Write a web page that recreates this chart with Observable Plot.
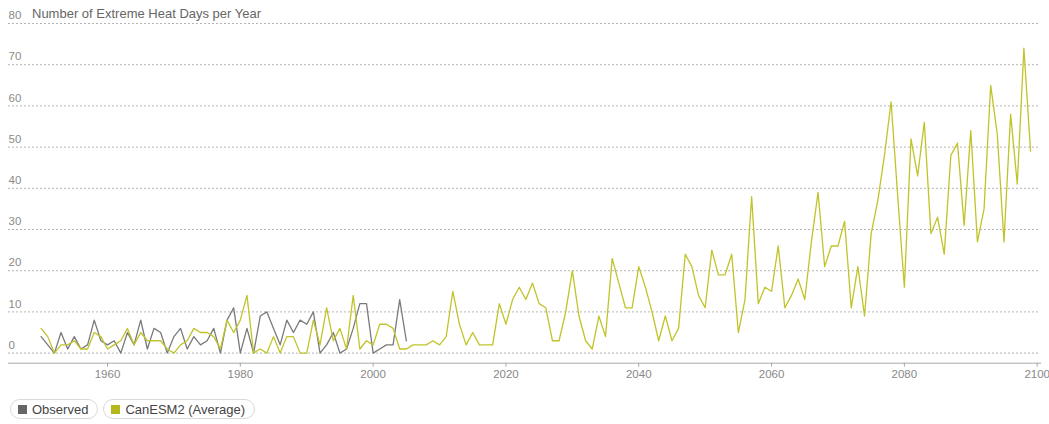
<!DOCTYPE html>
<html><head><meta charset="utf-8">
<script src="https://cdn.jsdelivr.net/npm/d3@7"></script>
<script src="https://cdn.jsdelivr.net/npm/@observablehq/plot@0.6"></script>
<style>
body{margin:0;background:#fff;font-family:"Liberation Sans",Arial,sans-serif;}
#wrap{position:relative;width:1049px;}
#title{position:absolute;left:32px;top:7px;font-size:13px;line-height:13px;color:#666;white-space:nowrap;}
#legend{display:flex;gap:5px;margin-left:10px;margin-top:9px;}
.pill{display:flex;align-items:center;height:18px;border:1px solid #d9d9d9;border-radius:10px;padding:0 9px 0 7px;font-size:13px;color:#444;}
.sw{width:9px;height:9px;margin-right:5px;}
</style></head><body>
<div id="wrap"><div id="chart"></div><div id="title">Number of Extreme Heat Days per Year</div>
<div id="legend"></div></div>
<script>
const seriesNames = ["Observed", "CanESM2 (Average)"];
const seriesColors = ["#7a7a7a", "#c0c429"];
const obsStart = 1950;
const observed = [4,2,0,5,1,4,1,2,8,3, 2,3,0,5,2,8,1,6,5,0, 4,6,1,4,2,3,6,0,8,11, 0,6,0,9,10,6,2,8,5,8, 7,10,0,2,5,0,1,6,12,12, 0,1,2,2,13,3];
const modelStart = 1950;
const canesm2 = [6,4,0,2,2,3,1,1,5,4, 1,2,3,6,2,5,3,3,3,1, 0,2,3,6,5,5,4,1,8,5,
  8,14,0,1,0,4,0,4,4,0, 0,8,2,11,3,6,1,14,1,3, 2,7,7,6,1,1,2,2,2,3,
  2,4,15,7,2,5,2,2,2,12, 7,13,16,13,17,12,11,3,3,10, 20,9,3,1,9,4,23,17,11,11,
  21,16,10,3,9,3,6,24,21,14, 11,25,19,19,24,5,13,38,12,16, 15,26,11,14,18,13,27,39,21,26,
  26,32,11,21,9,29,37,48,61,38, 16,52,43,56,29,33,24,48,51,31, 54,27,35,65,53,27,58,41,74,49];
const xTicks = [1960,1980,2000,2020,2040,2060,2080,2100];
const yTicks = [0,10,20,30,40,50,60,70,80];

const obsData = observed.map((v,i)=>({year: obsStart+i, value: v}));
const modelData = canesm2.map((v,i)=>({year: modelStart+i, value: v}));

const chart = Plot.plot({
  width: 1049, height: 390,
  marginLeft: 8, marginRight: 9, marginTop: 23, marginBottom: 27.3,
  x: {domain: [1945.09, 2100.5], label: null},
  y: {domain: [-2.45, 80], label: null},
  style: {fontFamily: '"Liberation Sans", Arial, sans-serif', fontSize: "11px", background: "white", overflow: "visible"},
  marks: [
    Plot.ruleY(yTicks, {stroke: "#b5b5b5", strokeDasharray: "2,2", strokeWidth: 1}),
    Plot.frame({anchor: "bottom", stroke: "#a8a8a8"}),
    Plot.axisX(xTicks, {tickSize: 4, tickPadding: 3, tickFormat: "d", stroke: "#a8a8a8", fill: "#888", fontSize: 11.5, label: null}),
    Plot.axisY(yTicks, {anchor: "left", tickSize: 0, tickPadding: 0, textAnchor: "start", dy: -8, fill: "#8a8a8a", fontSize: 11.5, label: null}),
    Plot.line(obsData, {x: "year", y: "value", stroke: seriesColors[0], strokeWidth: 1.3}),
    Plot.line(modelData, {x: "year", y: "value", stroke: seriesColors[1], strokeWidth: 1.3})
  ]
});
document.getElementById("chart").append(chart);

const legend = document.getElementById("legend");
seriesNames.forEach((name, i) => {
  const p = document.createElement("div");
  p.className = "pill";
  const s = document.createElement("span");
  s.className = "sw";
  s.style.background = i === 0 ? "#666" : "#b4b81a";
  p.append(s, document.createTextNode(name));
  legend.append(p);
});
</script></body></html>
